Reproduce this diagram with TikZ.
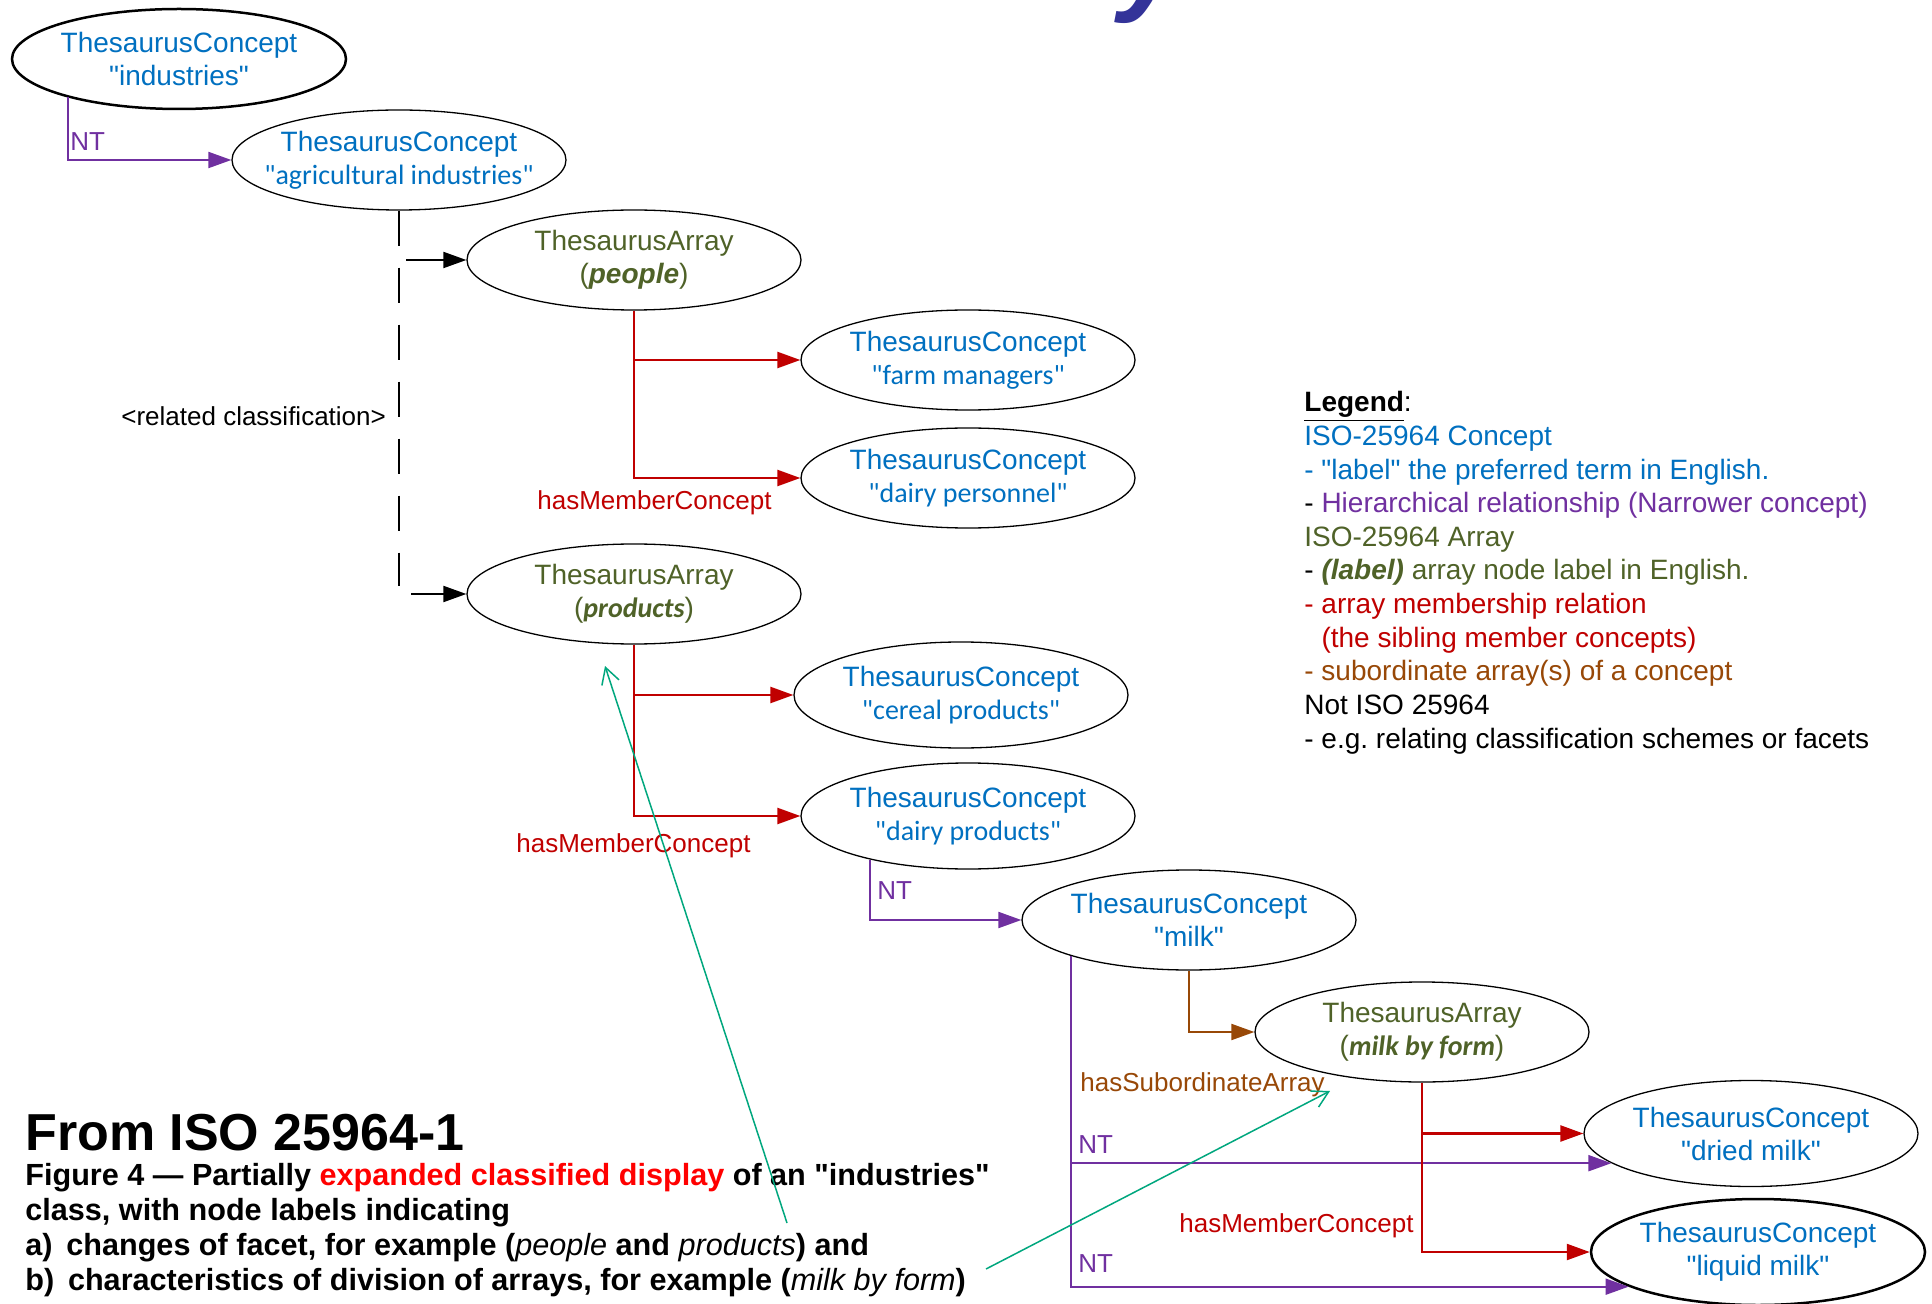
\documentclass[tikz,border=0pt]{standalone}
\usepackage{fontspec}
\setmainfont{Liberation Sans}[Ligatures=TeXOff]
\newfontfamily\calibri{Carlito}[Ligatures=TeXOff]
\usetikzlibrary{shapes.geometric,arrows.meta}
\frenchspacing

\definecolor{cblue}{HTML}{0070C0}
\definecolor{agreen}{HTML}{4F6228}
\definecolor{ntpurple}{HTML}{7030A0}
\definecolor{memred}{HTML}{C00000}
\definecolor{subbrown}{HTML}{984807}
\definecolor{notegreen}{HTML}{00A77E}
\definecolor{titleblue}{HTML}{333399}
\definecolor{capred}{HTML}{FF0000}

\begin{document}
\begin{tikzpicture}[x=0.5pt,y=-0.5pt,
  conc/.style={ellipse, draw=black, line width=0.65pt, minimum width=167pt,
               minimum height=50pt, inner sep=0pt},
  tall/.style={minimum height=53pt},
  heavy/.style={line width=1.25pt},
  intxt/.style={align=center, inner sep=0pt, font=\fontsize{14}{16.5}\selectfont},
  ctext/.style={label={[intxt, text=cblue]center:{#1}}},
  atext/.style={label={[intxt, text=agreen]center:{#1}}},
  tip/.style={-{Triangle[length=11.5pt,width=8pt]}},
  ntline/.style={draw=ntpurple, line width=1pt, tip},
  memline/.style={draw=memred, line width=1.2pt, tip},
  subline/.style={draw=subbrown, line width=1pt, tip},
  relline/.style={draw=black, line width=1pt, dash pattern=on 17.5pt off 11pt},
  relarrow/.style={draw=black, line width=1pt, tip},
  noteline/.style={draw=notegreen, line width=0.75pt,
                   -{Straight Barb[length=8pt,width=9pt]}},
  lbl/.style={anchor=west, inner sep=0pt, font=\fontsize{13}{15}\selectfont},
  leg/.style={anchor=base west, inner sep=0pt, font=\fontsize{14}{16.5}\selectfont},
  captxt/.style={anchor=base west, inner sep=0pt, font=\fontsize{15.3}{18}\selectfont\bfseries},
]
\fill[white] (0,0) rectangle (1932,1304);
\useasboundingbox (0,0) rectangle (1932,1304);

% tail of the heading, cut by the upper edge
\begin{scope}
  \clip (0,0) rectangle (1932,1304);
  \node[anchor=base west, inner sep=0pt, text=titleblue,
        font=\fontsize{58}{64}\selectfont\bfseries\itshape] (head) at (1119,0) {y};
\end{scope}

% ---------- concepts and arrays ----------
\node[conc, heavy, ctext={ThesaurusConcept\\"industries"}] (ind) at (179,59) {};
\node[conc, ctext={ThesaurusConcept\\{\calibri "agricultural industries"}}] (agri) at (399,160) {};
\node[conc, atext={ThesaurusArray\\(\textbf{\textit{people}})}] (people) at (634,260) {};
\node[conc, ctext={ThesaurusConcept\\{\calibri "farm managers"}}] (farm) at (968,360) {};
\node[conc, ctext={ThesaurusConcept\\{\calibri "dairy personnel"}}] (dpers) at (968,478) {};
\node[conc, atext={ThesaurusArray\\({\calibri\bfseries\itshape products})}] (prod) at (634,594) {};
\node[conc, tall, ctext={ThesaurusConcept\\{\calibri "cereal products"}}] (cereal) at (961,695) {};
\node[conc, tall, ctext={ThesaurusConcept\\{\calibri "dairy products"}}] (dprod) at (968,816) {};
\node[conc, ctext={ThesaurusConcept\\"milk"}] (milk) at (1189,920) {};
\node[conc, atext={ThesaurusArray\\({\calibri\bfseries\itshape milk by form})}] (mbf) at (1422,1032) {};
\node[conc, tall, ctext={ThesaurusConcept\\"dried milk"}] (dried) at (1751,1133.5) {};
\node[conc, tall, heavy, ctext={ThesaurusConcept\\"liquid milk"}] (liquid) at (1758,1252) {};

% ---------- narrower-term links ----------
\draw[ntline] (ind.199) |- (agri.west);
\draw[ntline] (dprod.204) |- (milk.west);
\draw[ntline] (milk.197) |- (dried.192);
\draw[ntline] (milk.197) |- (liquid.195.5);

% ---------- related classification ----------
\coordinate (relend) at (399,586);
\coordinate (relA) at (406,260);
\coordinate (relB) at (411,594);
\draw[relline] (agri.south) -- (relend);
\draw[relarrow] (relA) -- (people.west);
\draw[relarrow] (relB) -- (prod.west);

% ---------- array membership ----------
\draw[memline] (people.south) |- (farm.west);
\draw[memline] (people.south) |- (dpers.west);
\draw[memline] (prod.south) |- (cereal.west);
\draw[memline] (prod.south) |- (dprod.west);
\draw[memline] (mbf.south) |- (dried.west);
\draw[memline] (mbf.south) |- (liquid.west);

% ---------- subordinate array ----------
\draw[subline] (milk.south) |- (mbf.west);

% ---------- connector labels ----------
\node[lbl, text=ntpurple] (nt1) at (70,142) {NT};
\node[lbl, text=ntpurple] (nt2) at (877,891) {NT};
\node[lbl, text=ntpurple] (nt3) at (1078,1145) {NT};
\node[lbl, text=ntpurple] (nt4) at (1078,1264) {NT};
\node[lbl] (relc) at (121,416) {<related classification>};
\node[lbl, text=memred] (hm1) at (537,503) {hasMemberConcept};
\node[lbl, text=memred] (hm2) at (516,846) {hasMemberConcept};
\node[lbl, text=memred] (hm3) at (1179,1226) {hasMemberConcept};
\node[lbl, text=subbrown] (hsa) at (1080,1085) {hasSubordinateArray};

% ---------- legend ----------
\node[leg] (lg1) at (1304,412) {\underline{\textbf{Legend}}:};
\node[leg, text=cblue] (lg2) at (1304,445.6) {ISO-25964 Concept};
\node[leg, text=cblue] (lg3) at (1304,479.2) {- "label" the preferred term in English.};
\node[leg] (lg4) at (1304,512.8) {- {\color{ntpurple}Hierarchical relationship (Narrower concept)}};
\node[leg, text=agreen] (lg5) at (1304,546.4) {ISO-25964 Array};
\node[leg] (lg6) at (1304,580) {- {\color{agreen}\textbf{\textit{(label)}} array node label in English.}};
\node[leg, text=memred] (lg7) at (1304,613.6) {- array membership relation};
\node[leg, text=memred] (lg8) at (1304,647.2) {\phantom{- }(the sibling member concepts)};
\node[leg, text=subbrown] (lg9) at (1304,680.8) {- subordinate array(s) of a concept};
\node[leg] (lg10) at (1304,714.4) {Not ISO 25964};
\node[leg] (lg11) at (1304,748) {- e.g. relating classification schemes or facets};

% ---------- caption ----------
\node[anchor=base west, inner sep=0pt, font=\fontsize{26}{31}\selectfont\bfseries] (src) at (25,1150) {From ISO 25964-1};
\node[captxt] (cp1) at (25,1185) {Figure 4 — Partially {\color{capred}expanded classified display} of an "industries"};
\node[captxt] (cp2) at (25,1220) {class, with node labels indicating};
\node[captxt] (cp3) at (25,1255) {a)\hspace{0.45em}changes of facet, for example ({\mdseries\itshape people} and {\mdseries\itshape products}) and};
\node[captxt] (cp4) at (25,1290) {b)\hspace{0.45em}characteristics of division of arrays, for example ({\mdseries\itshape milk by form})};

% ---------- pointers from the caption ----------
\coordinate (pa0) at (787,1223);
\coordinate (pa1) at (605,666);
\coordinate (pb0) at (986,1269);
\coordinate (pb1) at (1330,1091);
\draw[noteline] (pa0) -- (pa1);
\draw[noteline] (pb0) -- (pb1);
\end{tikzpicture}
\end{document}
